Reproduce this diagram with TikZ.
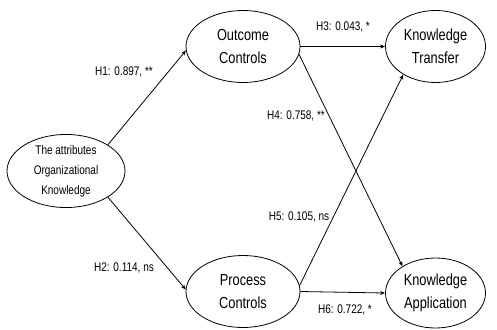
\documentclass[tikz,border=0pt]{standalone}
\usepackage{fontspec}
\setmainfont{Liberation Sans}[FakeStretch=0.8]
\usetikzlibrary{shapes.geometric,arrows.meta}
\begin{document}
\begin{tikzpicture}[x=1pt,y=-1pt,
  construct/.style={draw, line width=0.8pt, ellipse, inner sep=0pt, align=center,
    font=\fontsize{16}{23}\selectfont},
  path/.style={line width=0.8pt, -{Stealth[length=5pt,width=4pt]}},
  hlabel/.style={font=\fontsize{12.5}{14}\selectfont, inner sep=0pt}]
\useasboundingbox (0,0) rectangle (497,329);
\node[construct, minimum width=118pt, minimum height=64pt,
  font=\fontsize{12.5}{20}\selectfont] (lk) at (66,171) {The attributes\\Organizational\\Knowledge};
\node[construct, minimum width=114pt, minimum height=72pt] (oc) at (243,46.5) {Outcome\\Controls};
\node[construct, minimum width=114pt, minimum height=72pt] (pc) at (243,291.5) {Process\\Controls};
\node[construct, minimum width=100pt, minimum height=72pt] (kt) at (435.5,46.5) {Knowledge\\Transfer};
\node[construct, minimum width=100pt, minimum height=70pt] (ka) at (435.5,293) {Knowledge\\Application};

\draw[path] (lk.32) -- (oc.184);
\draw[path] (lk.-32) -- (pc.178);
\draw[path] (oc.east) -- (kt.west);
\draw[path] (oc.-8) -- (ka.141);
\draw[path] (pc.6) -- (kt.221);
\draw[path] (pc.east) -- (ka.west);

\node[hlabel] (l1) at (124,72) {H1: 0.897, **};
\node[hlabel] (l2) at (124,268) {H2: 0.114, ns};
\node[hlabel] (l3) at (343,27) {H3: 0.043, *};
\node[hlabel] (l4) at (296,116) {H4: 0.758, **};
\node[hlabel] (l5) at (299,217) {H5: 0.105, ns};
\node[hlabel] (l6) at (345,310) {H6: 0.722, *};
\end{tikzpicture}
\end{document}
